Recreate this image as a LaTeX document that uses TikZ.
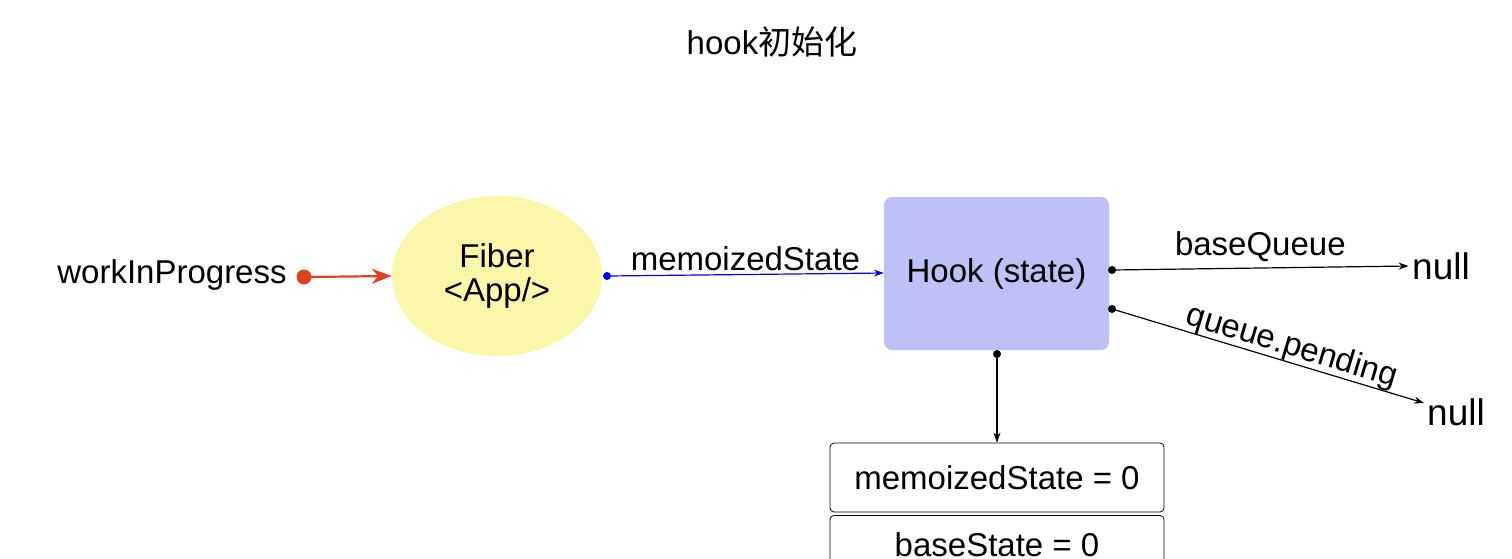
\documentclass[tikz,border=0pt]{standalone}
\usepackage{fontspec}
\setmainfont{Liberation Sans}
\newfontfamily\cjk{Noto Sans CJK SC}
\usetikzlibrary{arrows.meta,shapes.geometric}
\begin{document}
\begin{tikzpicture}[x=1pt,y=-1pt,
  lbl/.style={font=\fontsize{33}{38}\selectfont},
  nul/.style={font=\fontsize{37}{40}\selectfont},
  con/.style={-{Stealth[length=10pt,width=7pt]},line width=1.2pt},
  dot/.style={circle,fill,inner sep=0pt,minimum size=8pt}]
\useasboundingbox (0,0) rectangle (1512,558);
\begin{scope}
\clip (0,0) rectangle (1512,558);
\node[font=\fontsize{33}{38}\selectfont] (title) at (772,42) {hook{\cjk 初始化}};
\node[lbl] (wip) at (172,275) {workInProgress};
\node[ellipse,fill={rgb,255:red,250;green,247;blue,170},minimum width=210pt,minimum height=160pt,lbl,align=center] (fiber) at (497,276) {Fiber\\[-4pt]\textless App/\textgreater};
\node[rounded corners=8pt,fill={rgb,255:red,191;green,192;blue,245},minimum width=225pt,minimum height=153pt,lbl] (hook) at (996.5,273.5) {Hook (state)};
\coordinate (rd) at (304,277);
\node[dot,fill={rgb,255:red,224;green,64;blue,36},minimum size=15pt] at (rd) {};
\draw[con,draw={rgb,255:red,224;green,64;blue,36},line width=2.2pt,-{Stealth[length=20pt,width=15pt]}] (rd) -- (fiber.west);
\coordinate (bd) at (607,276);
\node[dot,fill=blue] at (bd) {};
\draw[con,blue] (bd) -- node[above,black,lbl,yshift=0pt]{memoizedState} (hook.west|-0,273);
\coordinate (d1) at (1112,270);
\node[dot] at (d1) {};
\node[nul] (null1) at (1441,266) {null};
\draw[con] (d1) -- node[above,lbl,yshift=2pt]{baseQueue} (null1.west);
\coordinate (d2) at (1112,309);
\node[dot] at (d2) {};
\node[nul] (null2) at (1456,412) {null};
\draw[con] (d2) -- node[above,sloped,lbl,yshift=-4pt,xshift=20pt]{queue.pending} (1424,403);
\coordinate (d3) at (997,354);
\node[dot] at (d3) {};
\node[draw,rounded corners=4pt,minimum width=334pt,minimum height=69pt,lbl,line width=0.8pt] (ms) at (997,477.5) {memoizedState = 0};
\node[draw,rounded corners=4pt,minimum width=334pt,minimum height=69pt,line width=0.8pt,anchor=north] (bs) at (997,515) {};
\node[lbl] (bst) at (997,545) {baseState = 0};
\draw[con] (d3) -- (ms.north);
\end{scope}
\end{tikzpicture}
\end{document}
